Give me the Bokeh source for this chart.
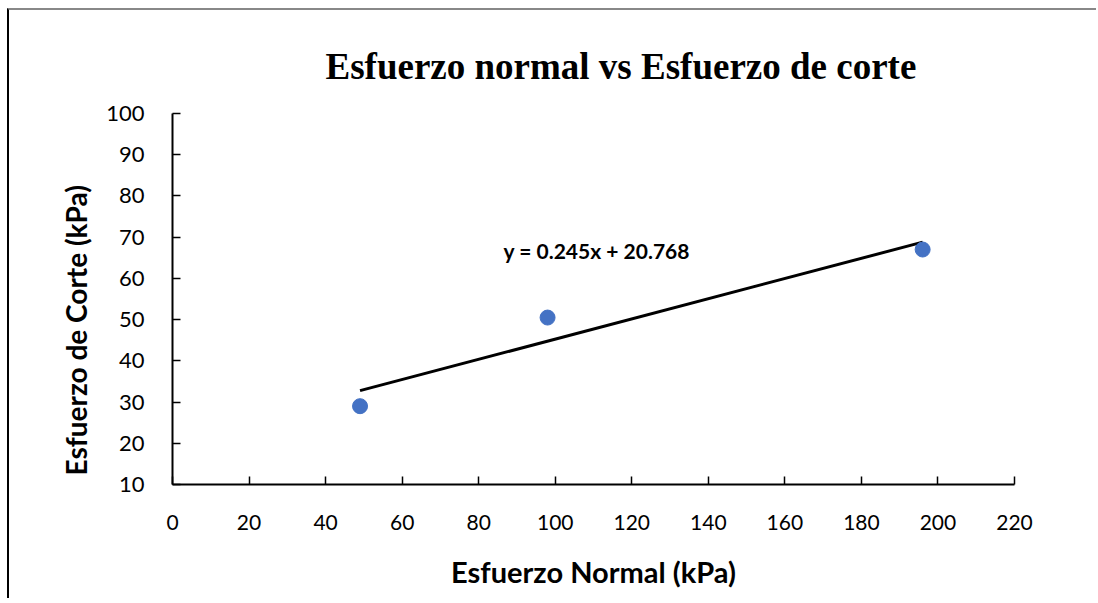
from bokeh.plotting import figure
from bokeh.models import Range1d, Label, FixedTicker, Title
from bokeh.embed import file_html
from bokeh.resources import INLINE

# Data
normal_kpa = [49, 98, 196]
corte_kpa = [29, 50.5, 67]
slope = 0.245
intercept = 20.768
x_ticks = [0, 20, 40, 60, 80, 100, 120, 140, 160, 180, 200, 220]
y_ticks = [10, 20, 30, 40, 50, 60, 70, 80, 90, 100]
title_text = "Esfuerzo normal vs Esfuerzo de corte"
x_label = "Esfuerzo Normal (kPa)"
y_label = "Esfuerzo de Corte (kPa)"
eq_text = "y = 0.245x + 20.768"

FONT = "Lato"

p = figure(width=1089, height=590, output_backend="svg", toolbar_location=None,
           x_range=Range1d(0, 220), y_range=Range1d(10, 100),
           min_border_left=163, min_border_right=84, min_border_top=103, min_border_bottom=116)
p.outline_line_color = None
p.xgrid.grid_line_color = None
p.ygrid.grid_line_color = None
p.styles = {"margin-left": "7px", "margin-top": "8px",
            "border-left": "2px solid black", "border-top": "2px solid #888888"}

for ax in (p.xaxis, p.yaxis):
    ax.axis_line_color = "black"
    ax.axis_line_width = 2
    ax.major_tick_line_color = "black"
    ax.major_tick_line_width = 1.5
    ax.major_tick_in = 8
    ax.major_tick_out = 0
    ax.minor_tick_line_color = None
    ax.major_label_text_font = FONT
    ax.major_label_text_color = "black"

p.xaxis.major_label_text_font_size = "21px"
p.yaxis.major_label_text_font_size = "22px"
p.xaxis.ticker = FixedTicker(ticks=x_ticks)
p.yaxis.ticker = FixedTicker(ticks=y_ticks)
p.xaxis.major_label_standoff = 30
p.yaxis.major_label_standoff = 28

p.xaxis.axis_label = x_label
p.xaxis.axis_label_text_font = FONT
p.xaxis.axis_label_text_font_style = "bold"
p.xaxis.axis_label_text_font_size = "29px"
p.xaxis.axis_label_text_color = "black"
p.xaxis.axis_label_standoff = 21

# Title
p.title = Title(text=title_text, align="left", offset=153, standoff=50,
                vertical_align="top", text_font="Liberation Serif", text_font_style="bold",
                text_font_size="37px", text_color="black")

p.add_layout(Title(text=y_label, align="left", offset=9, standoff=21, text_font=FONT,
                   text_font_style="bold", text_font_size="28px", text_color="black"), "left")

# Trend line
x_fit = [min(normal_kpa), max(normal_kpa)]
y_fit = [slope * v + intercept for v in x_fit]
p.line(x_fit, y_fit, line_color="black", line_width=3)

# Points
p.scatter(normal_kpa, corte_kpa, size=15, fill_color="#4472C4", line_color="#4472C4")

# Equation
p.add_layout(Label(x=86.5, y=66.8, text=eq_text, text_font=FONT, text_font_style="bold",
                   text_font_size="21px", text_baseline="middle", text_align="left",
                   text_color="black"))

open("out.html", "w").write(file_html(p, INLINE))
